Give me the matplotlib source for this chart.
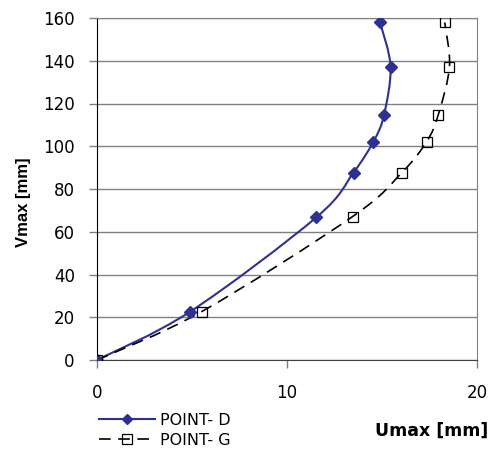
import numpy as np
import matplotlib.pyplot as plt
from matplotlib.path import Path
from matplotlib.patches import PathPatch

plt.rcParams['font.family'] = ['DejaVu Sans']

# Umax / Vmax readings [mm]
d_u = [0.0, 4.9, 11.55, 13.5, 14.55, 15.1, 15.45, 14.9]
d_v = [0.0, 22.6, 66.8, 87.7, 102.2, 114.4, 137.2, 157.9]
g_u = [0.0, 5.5, 13.45, 16.05, 17.35, 17.95, 18.55, 18.3]
g_v = [0.0, 22.6, 67.1, 87.7, 102.2, 114.4, 137.2, 157.9]


def smooth_path(x, y, t=1 / 6):
    # Excel-style smoothed line: cubic Bezier segments through the points
    p = np.column_stack([x, y])
    verts = [p[0]]
    codes = [Path.MOVETO]
    n = len(p)
    for i in range(n - 1):
        p0 = p[i - 1] if i > 0 else p[i]
        p3 = p[i + 2] if i + 2 < n else p[i + 1]
        c1 = p[i] + (p[i + 1] - p0) * t
        c2 = p[i + 1] - (p3 - p[i]) * t
        verts += [c1, c2, p[i + 1]]
        codes += [Path.CURVE4] * 3
    return Path(verts, codes)


fig = plt.figure(figsize=(4.9, 4.54), dpi=100)
ax = fig.add_axes([97 / 490, 1 - 360 / 454, 380 / 490, 342 / 454])

navy = '#2E3192'
dash = (0, (7, 4.5))
ax.add_patch(PathPatch(smooth_path(d_u, d_v), fill=False, edgecolor=navy, lw=1.5, zorder=3))
ax.add_patch(PathPatch(smooth_path(g_u, g_v), fill=False, edgecolor='black', lw=1.2,
                       linestyle=dash, zorder=3))
ax.plot(d_u, d_v, linestyle='none', marker='D', ms=6, color=navy, zorder=4)
ax.plot(g_u, g_v, linestyle='none', marker='s', ms=7.5, mfc='none', mec='black', mew=0.9, zorder=4)

# legend proxies
ax.plot([], [], color=navy, lw=1.5, marker='D', ms=5.5, label='POINT- D')
ax.plot([], [], color='black', lw=1.2, linestyle=dash, marker='s', ms=7,
        mfc='none', mec='black', mew=0.9, label='POINT- G')

ax.set_xlim(0, 20)
ax.set_ylim(0, 160)
ax.set_xticks([0, 10, 20])
ax.set_yticks(np.arange(0, 161, 20))
ax.tick_params(axis='both', labelsize=12, length=6, width=1, color='#808080')
ax.tick_params(axis='x', pad=11)
ax.tick_params(axis='y', pad=10)
ax.grid(axis='y', color='#808080', lw=1)
ax.set_axisbelow(True)
ax.spines['left'].set_color('black')
ax.spines['bottom'].set_color('#404040')
ax.spines['right'].set_color('#808080')
ax.spines['top'].set_color('#808080')

fig.text(488 / 490, 1 - 431 / 454, 'Umax [mm]', ha='right', va='center', fontsize=12.5, fontweight='bold')
fig.text(24 / 490, 1 - 202 / 454, 'Vmax [mm]', ha='center', va='center', rotation=90,
         fontsize=12, fontweight='bold', family=['Liberation Sans', 'DejaVu Sans'])

leg = fig.legend(loc='upper left', bbox_to_anchor=(99 / 490, 1 - 413 / 454), frameon=False,
                 fontsize=11.5, handlelength=3.5, handletextpad=0.3, labelspacing=0.3,
                 borderpad=0, borderaxespad=0)

fig.savefig('out.png', dpi=100)
